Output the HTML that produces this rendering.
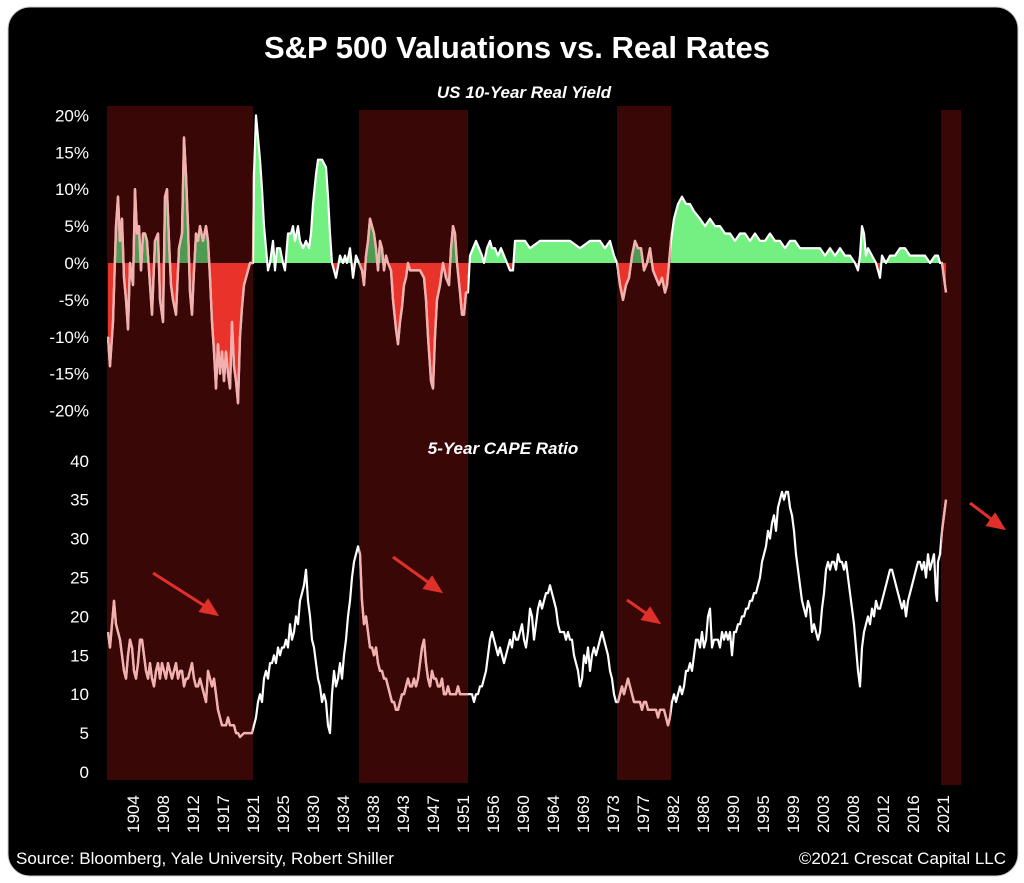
<!DOCTYPE html>
<html><head><meta charset="utf-8"><style>
html,body{margin:0;padding:0;background:#fff;width:1024px;height:883px;overflow:hidden}
svg{display:block}
text{font-family:"Liberation Sans",sans-serif;fill:#fff}
</style></head><body>
<svg id="s" width="1024" height="883" xmlns="http://www.w3.org/2000/svg">
<defs>
<clipPath id="bands">
<rect x="107" y="100" width="146" height="690"/><rect x="359" y="100" width="109" height="690"/><rect x="617" y="100" width="54" height="690"/><rect x="941" y="100" width="20" height="690"/>
</clipPath>
<clipPath id="above"><rect x="0" y="0" width="1024" height="263"/></clipPath>
<clipPath id="below"><rect x="0" y="263" width="1024" height="300"/></clipPath>
</defs>
<rect x="8" y="7" width="1010" height="869" rx="22" fill="#000" stroke="#ccc" stroke-width="1"/>
<rect x="107" y="106" width="146" height="674" fill="#3a0707"/>
<rect x="359" y="110" width="109" height="673" fill="#3a0707"/>
<rect x="617" y="106" width="54" height="674" fill="#3a0707"/>
<rect x="941" y="110" width="20" height="675" fill="#3a0707"/>
<g id="g"></g>
<text x="517" y="58" font-size="31" font-weight="bold" text-anchor="middle">S&amp;P 500 Valuations vs. Real Rates</text>
<text x="524" y="98" font-size="17" font-weight="bold" font-style="italic" text-anchor="middle">US 10-Year Real Yield</text>
<text x="503" y="454" font-size="17" font-weight="bold" font-style="italic" text-anchor="middle">5-Year CAPE Ratio</text>
<g font-size="17" text-anchor="end" id="yl"></g>
<g font-size="17" id="xl"></g>
<text x="16" y="864" font-size="17">Source: Bloomberg, Yale University, Robert Shiller</text>
<text x="1006" y="864" font-size="17" text-anchor="end">©2021 Crescat Capital LLC</text>
<g stroke="#e0302a" stroke-width="3" fill="#e0302a">
<line x1="153" y1="573" x2="208" y2="608"/><polygon points="216,614 201,611 208,601"/>
<line x1="393" y1="557" x2="432" y2="585"/><polygon points="440,591 425,588 432,578"/>
<line x1="627" y1="600" x2="650" y2="616"/><polygon points="658,622 643,619 650,609"/>
<line x1="970" y1="503" x2="995" y2="522"/><polygon points="1003,528 988,525 995,515"/>
</g>
</svg>
<script>
var NS="http://www.w3.org/2000/svg";
function el(t,a,p){var e=document.createElementNS(NS,t);for(var k in a)e.setAttribute(k,a[k]);(p||document.getElementById('g')).appendChild(e);return e;}
var Y="108,-10;110,-14;113,-8;116,5;118,9;120,3;122,6;124,-2;126,-5;128,-9;130,0;133,-3;135,10;137,4;139,5;141,-1;143,4;145,4;147,3;150,-3;152,-7;155,3;158,4;160,-5;163,-8;165,9;167,10;169,3;171,-3;173,-5;176,-7;179,2;182,4;184,17;186,12;188,5;190,-4;192,-7;194,-1;196,4;198,3;200,5;203,3;206,5;208,3;210,-2;212,-8;214,-12;216,-17;218,-11;220,-15;222,-12;224,-16;226,-12;228,-15;230,-17;232,-8;234,-14;236,-16;238,-19;240,-10;242,-6;244,-3;246,-2;248,-1;250,0;253,0;254,12;256,20;258,17;260,14;262,10;264,5;266,2;268,-1;270,0;273,3;275,-1;277,2;280,2;283,0;285,-1;288,4;291,4;293,5;295,3;298,5;300,3;303,2;306,3;309,2;311,4;313,8;316,12;318,14;322,14;326,13;328,9;330,4;332,0;334,-1;336,-2;340,1;343,0;345,1;347,0;350,2;353,-2;356,1;359,0;362,-1;364,-3;366,1;368,3;370,6;372,5;374,4;376,2;378,-1;380,3;382,2;384,-1;386,1;388,0;391,-1;393,-5;396,-9;398,-11;400,-8;402,-6;404,-3;406,-2;408,0;410,-1;413,-1;416,-1;420,-1;424,-2;426,-5;428,-10;431,-16;433,-17;435,-10;437,-5;440,-3;443,0;446,-2;449,-3;451,2;453,5;455,4;457,0;460,-4;462,-7;464,-7;466,-4;468,-4;470,1;473,2;476,3;479,2;482,1;484,0;487,2;490,3;492,2;495,2;498,1;501,2;504,1;507,0;510,-1;513,-1;515,3;520,3;525,3;530,2;540,3;550,3;560,3;570,3;580,2;590,3;600,3;605,2;610,3;614,1;617,0;618,-1;620,-3;623,-5;626,-3;629,-2;632,1;635,3;638,2;641,2;644,-1;647,0;650,2;653,-1;656,-2;659,-3;662,-2;665,-4;667,-3;669,0;671,3;674,6;678,8;682,9;686,8;690,8;694,7;700,6;705,5;710,6;715,5;720,5;725,4;730,4;735,3;740,4;745,4;750,3;755,4;760,3;765,3;770,4;775,3;780,3;785,2;790,3;795,3;800,2;805,2;810,2;815,2;820,2;825,1;830,2;835,1;840,2;845,1;850,1;855,0;858,-1;860,1;862,5;864,4;866,1;868,2;872,1;876,0;878,-1;880,-2;882,1;886,0;890,1;895,1;900,2;905,2;910,1;915,1;920,1;925,1;930,0;935,1;938,1;940,0;942,0;944,-2;946,-4";
var C="108,18;110,16;112,19;114,22;116,19;118,18;120,17;122,15;124,13;126,12;128,15;130,17;132,16;134,13;136,12;138,14;140,17;142,17;144,15;146,13;148,12;150,14;152,12;154,11;156,13;158,14;160,12;162,14;164,13;166,12;168,14;170,13;172,12;174,13;176,14;178,12;180,13;182,13;184,11;186,12;188,12;190,13;192,14;194,12;196,11;198,11;200,12;202,11;204,10;206,9;208,13;210,12;212,11;214,12;216,10;218,8;220,7;222,6;224,6;226,6;228,7;230,6;232,6;234,6;236,5;238,5;240,4.5;244,5;248,5;252,5;254,6;256,7;258,9;260,10;262,9;264,12;266,13;268,12;270,14;272,14;274,15;276,14;278,16;280,15;282,16;284,16;286,17;288,16;290,19;292,17;294,18;296,20;298,19;300,22;302,23;304,24;306,26;308,22;310,20;312,17;314,16;316,14;318,12;320,11;322,9;324,10;326,9;328,6;330,5;332,10;334,13;336,11;338,12;340,14;342,12;344,15;346,17;348,20;350,22;352,25;354,27;356,28;358,29;360,28;362,22;364,19;366,20;368,18;370,16;372,16;374,15;376,16;378,14;380,13;382,13;384,12;386,12;388,11;390,10;392,9;394,9;396,8;398,8;400,9;402,10;404,10;406,11;408,12;410,11;412,11;414,12;416,11;418,12;420,14;422,16;424,17;426,14;428,12;430,11;432,13;434,12;436,12;438,11;440,11;442,12;444,10;446,10;448,11;450,10;452,10;454,10;456,10;458,11;460,10;462,10;464,10;466,10;468,10;470,10;472,10;474,9;476,10;478,10;480,11;482,11;484,12;486,13;488,15;490,17;492,18;494,17;496,16;498,15;500,16;502,15;504,14;506,15;508,16;510,17;512,16;514,18;516,17;518,17;520,18;522,19;524,17;526,16;528,18;530,21;532,20;534,17;536,19;538,21;540,22;542,21;544,22;546,23;548,23;550,24;552,23;554,22;556,21;558,19;560,18;562,18;564,18;566,17;568,18;570,17;572,17;574,15;576,14;578,13;580,11;582,12;584,15;586,14;588,16;590,13;592,15;594,16;596,15;598,16;600,17;602,18;604,17;606,16;608,15;610,13;612,12;614,10;616,9;618,9;620,10;622,11;624,10;626,11;628,12;630,11;632,10;634,9;636,9;638,9;640,9;642,8;644,9;646,9;648,8;650,8;652,8;654,8;656,8;658,7;660,8;662,8;664,8;666,7;668,6;670,7;672,9;674,10;676,9;678,10;680,11;682,10;684,11;686,13;688,13;690,14;692,13;694,15;696,17;698,17;700,16;702,18;704,16;706,17;708,20;710,21;712,16;714,17;716,17;718,17;720,16;722,18;724,17;726,18;728,17;730,18;732,15;734,18;736,18;738,19;740,19;742,20;744,20;746,21;748,21;750,22;752,22;754,23;756,23;758,24;760,25;762,27;764,28;766,29;768,31;770,30;772,32;774,33;776,31;778,34;780,35;782,36;784,35;786,36;788,36;790,34;792,33;794,31;796,28;798,26;800,24;802,22;804,21;806,20;808,22;810,21;812,18;814,19;816,18;818,17;820,18;822,21;824,23;826,26;828,27;830,26;832,27;834,27;836,26;838,28;840,27;842,27;844,26;846,27;848,25;850,23;852,21;854,19;856,16;858,13;860,11;862,16;864,18;866,19;868,20;870,19;872,21;874,20;876,22;878,21;880,21;882,22;884,23;886,24;888,25;890,26;892,26;894,25;896,24;898,23;900,22;902,21;904,22;906,20;908,22;910,23;912,24;914,25;916,26;918,27;920,27;922,26;924,27;926,25;928,28;930,26;932,27;934,28;936,23;937,22;938,27;940,28;942,31;944,33;946,35";
function parse(s,f){return s.split(';').map(function(p){var a=p.split(',');return [ +a[0], f(+a[1]) ];});}
var yp=parse(Y,function(v){return 263-v*7.38;});
var cp=parse(C,function(v){return 772-v*7.78;});
var ys=yp.map(function(p){return p[0]+','+p[1].toFixed(1)}).join(' ');
var cs=cp.map(function(p){return p[0]+','+p[1].toFixed(1)}).join(' ');
var area='108,263 '+ys+' 946,263';
el('polygon',{points:area,fill:'#74f083','clip-path':'url(#above)'});
var gb=el('g',{'clip-path':'url(#bands)'});
el('polygon',{points:area,fill:'#4e9a52','clip-path':'url(#above)'},gb);
el('polygon',{points:area,fill:'#e8322a','clip-path':'url(#below)'});
el('polyline',{points:ys,fill:'none',stroke:'#fff','stroke-width':2.2,'stroke-linejoin':'round'});
el('polyline',{points:ys,fill:'none',stroke:'#f2b0ae','stroke-width':2.4,'stroke-linejoin':'round','clip-path':'url(#bands)'});
el('polyline',{points:cs,fill:'none',stroke:'#fff','stroke-width':2.2,'stroke-linejoin':'round'});
el('polyline',{points:cs,fill:'none',stroke:'#f2b0ae','stroke-width':2.4,'stroke-linejoin':'round','clip-path':'url(#bands)'});
var yl=document.getElementById('yl');
for(var i=0;i<9;i++){var v=20-5*i;var t=el('text',{x:89,y:(263-v*7.38+6).toFixed(1)},yl);t.textContent=v+'%';}
for(var i=0;i<9;i++){var v=40-5*i;var t=el('text',{x:89,y:(772-v*7.78+6).toFixed(1)},yl);t.textContent=v;}
var yrs=[1904,1908,1912,1917,1921,1925,1930,1934,1938,1943,1947,1951,1956,1960,1964,1969,1973,1977,1982,1986,1990,1995,1999,2003,2008,2012,2016,2021];
var xl=document.getElementById('xl');
yrs.forEach(function(y,i){var x=133+30*i+6;var t=el('text',{x:x,y:833,transform:'rotate(-90 '+x+' 833)'},xl);t.textContent=y;});
</script>
</body></html>
